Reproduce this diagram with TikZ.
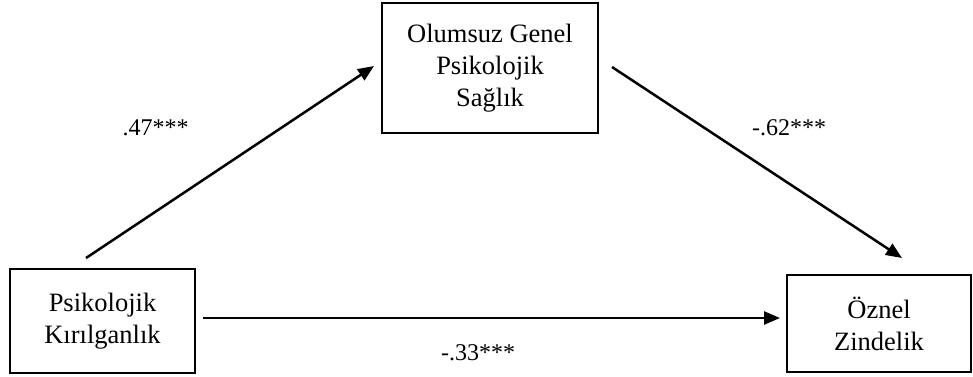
\documentclass[tikz,border=0pt]{standalone}
\usepackage{fontspec}
\setmainfont{Liberation Serif}
\usetikzlibrary{arrows.meta}
\begin{document}
\begin{tikzpicture}[x=1pt,y=-1pt,
  box/.style={draw=black,line width=1.6pt,align=center,inner sep=0pt,font=\fontsize{26.5}{32}\selectfont},
  conn/.style={line width=2.5pt,-{Triangle[length=16pt,width=13pt]}},
  lab/.style={font=\fontsize{24}{28}\selectfont,inner sep=0pt}]
\useasboundingbox (0,0) rectangle (973,376);
\node[box,minimum width=216pt,minimum height=130pt] (ogps) at (490,68) {Olumsuz Genel\\Psikolojik\\Sağlık};
\node[box,minimum width=185pt,minimum height=104pt] (pk) at (102.5,321) {Psikolojik\\Kırılganlık};
\node[box,minimum width=184pt,minimum height=97pt] (oz) at (879,323.5) {Öznel\\Zindelik};
\coordinate (a1s) at (86,258);
\coordinate (a1e) at (374,66);
\coordinate (a2s) at (612,67);
\coordinate (a2e) at (902,258);
\coordinate (a3s) at (203,318);
\coordinate (a3e) at (780,318);
\draw[conn] (a1s) -- (a1e);
\draw[conn] (a2s) -- (a2e);
\draw[conn] (a3s) -- (a3e);
\node[lab] (l1) at (155.5,128) {.47***};
\node[lab] (l2) at (789,128) {-.62***};
\node[lab] (l3) at (478,353) {-.33***};
\end{tikzpicture}
\end{document}
